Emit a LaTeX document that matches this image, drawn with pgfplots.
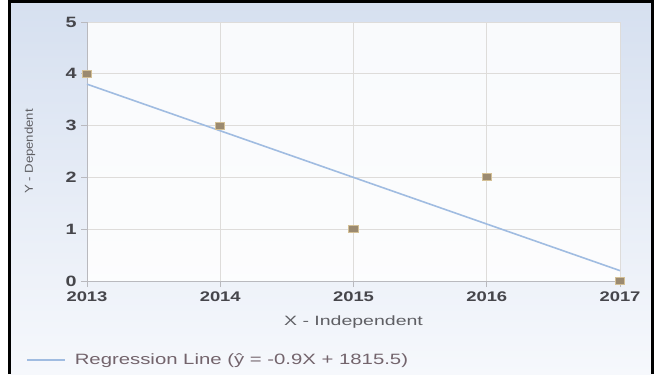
\documentclass[border=0pt]{standalone}
\usepackage{fontspec}
\setmainfont{Liberation Sans}
\newfontfamily\wfont[FakeStretch=1.32]{Liberation Sans}
\newfontfamily\lfont[FakeStretch=1.36]{Liberation Sans}
\newfontfamily\xfont[FakeStretch=1.45]{Liberation Sans}
\newfontfamily\yfont[FakeStretch=1.15]{Liberation Sans}
\usepackage{pgfplots}
\pgfplotsset{compat=1.18}
\definecolor{bgtop}{RGB}{214,224,240}
\definecolor{bgbot}{RGB}{246,248,252}
\definecolor{gridc}{RGB}{222,220,218}
\definecolor{axc}{RGB}{185,185,190}
\definecolor{regc}{RGB}{160,188,225}
\definecolor{mkfill}{RGB}{155,138,112}
\definecolor{mkdraw}{RGB}{212,192,150}
\definecolor{tickc}{RGB}{70,70,75}
\definecolor{labc}{RGB}{95,95,100}
\definecolor{legc}{RGB}{115,100,108}
\begin{document}
\begin{tikzpicture}[x=1bp,y=1bp]
\path[use as bounding box] (0,0) rectangle (661,374);
\shade[top color=bgtop,bottom color=bgbot] (10,0) rectangle (652,371);
\fill[white,opacity=0.85] (87,93) rectangle (620,352);
\draw[black,line width=3bp] (9.5,0) -- (9.5,372.5) -- (652.5,372.5) -- (652.5,0);
\begin{axis}[
  at={(87bp,93bp)}, anchor=south west,
  scale only axis, width=533bp, height=259bp,
  xmin=2013, xmax=2017, ymin=0, ymax=5,
  xtick={2013,2014,2015,2016,2017}, ytick={0,1,2,3,4,5},
  /pgf/number format/1000 sep={},
  /pgf/number format/assume math mode=true,
  axis lines*=left,
  axis line style={axc, line width=0.8bp},
  grid=major,
  major grid style={gridc, line width=0.8bp},
  tick align=outside, major tick length=6bp,
  tick style={axc, line width=0.8bp},
  xticklabel style={font=\fontsize{14}{14}\wfont\bfseries, text=tickc, yshift=-1bp},
  yticklabel style={font=\fontsize{15}{15}\wfont\bfseries, text=tickc, xshift=-1bp},
  xlabel={X - Independent},
  xlabel style={font=\fontsize{13.5}{13.5}\xfont, text=labc, at={(axis description cs:0.5,-0.16)}, anchor=center},
  ylabel={Y - Dependent},
  ylabel style={font=\fontsize{11.5}{11.5}\yfont, text=labc, at={(axis description cs:-0.107,0.5)}, anchor=center},
  legend style={at={(axis description cs:-0.12,-0.305)}, anchor=west, draw=none, fill=none,
    font=\fontsize{15}{15}\lfont, text=legc},
  legend image code/.code={\draw[#1] (0bp,0bp) -- (38bp,0bp); \path (45bp,0bp);},
  legend cell align=left,
  clip=false,
]
\addplot[only marks, mark=square*, mark size=3.5bp, mark options={fill=mkfill, draw=mkdraw, line width=1bp, xscale=1.3, rounded corners=1.5bp}, forget plot]
  coordinates {(2013,4)(2014,3)(2015,1)(2016,2)(2017,0)};
\addplot[regc, line width=1.6bp] coordinates {(2013,3.8)(2017,0.2)};
\addlegendentry{Regression Line (ŷ = -0.9X + 1815.5)}
\end{axis}
\end{tikzpicture}
\end{document}
